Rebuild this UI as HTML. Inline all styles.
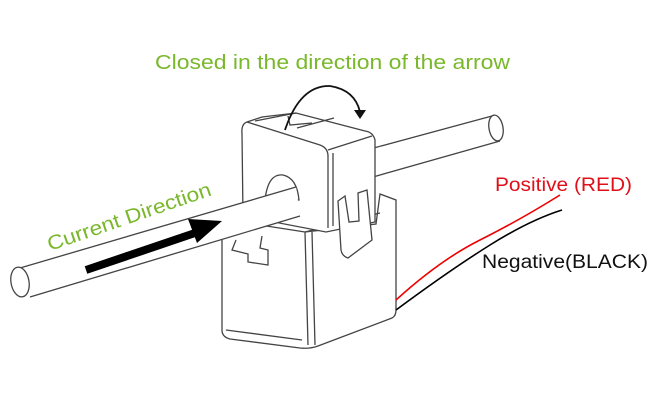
<!DOCTYPE html>
<html><head><style>
body{margin:0;background:#fff;width:657px;height:400px;overflow:hidden}
svg{display:block}
</style></head><body>
<svg width="657" height="400" viewBox="0 0 657 400" xmlns="http://www.w3.org/2000/svg" font-family="Liberation Sans, sans-serif">
<g fill="none" stroke="#444" stroke-width="1.3">
<path d="M370 149 L492 116 M373 177 L500 141"/>
<ellipse cx="496" cy="128" rx="7" ry="13" transform="rotate(-10 496 128)" fill="#fff"/>
<path d="M222 224 L222 330 Q222 337 230 339 L300 348 Q310 349 318 346 L392 318 Q396 316 396 310 L396 200 L380 194 L376 224 L305 232 L260 225 Z" fill="#fff"/>
<path d="M305 232 L308 345 M312 232 L315 345 M305 232 L380 213 M226 330 L302 340"/>
<path d="M247 122 Q241 124 242 134 L243 216 L326 232 L375 222 L375 140 Q373 132 365 131 L296 113 L262 117 Z" fill="#fff"/>
<path d="M247 122 L320 145 Q328 148 328 156 L328 228 M328 150 L372 136"/>
<path d="M255 121 L296 113 M288 116 L290 125 L312 123 M297 128 L334 118"/>
<path d="M333 153 L333 226"/>
<path d="M265 200 Q268 173 283 175 Q297 178 299 200 Z" fill="#fff"/>
<path d="M20 268 L296 187 L300 216 L30 297 Z" fill="#fff" stroke="none"/>
<path d="M20 268 L296 187 M30 297 L300 216"/>
<ellipse cx="20" cy="282" rx="9" ry="15" transform="rotate(-10 20 282)" fill="#fff"/>
<path d="M236 240 L232 250 L248 254 L248 262 L268 265 L268 250 L260 248 L262 236" fill="#fff"/>
<path d="M338 201 L345 196 L349 222 L359 221 L358 193 L367 190 L372 240 L348 258 Q342 256 341 250 Z" fill="#fff"/>
</g>
<path d="M396 300 Q440 260 480 240 T560 195" stroke="#e00" stroke-width="1.6" fill="none"/>
<path d="M396 310 Q450 270 490 245 T562 210" stroke="#000" stroke-width="1.6" fill="none"/>
<path d="M86 270 L195 233" stroke="#000" stroke-width="8"/>
<polygon points="222,221 188,219 197,243" fill="#000"/>
<path d="M285 130 Q300 85 330 86 Q355 90 360 112" stroke="#111" stroke-width="1.8" fill="none"/>
<polygon points="354,110 366,110 360,119" fill="#111"/>
<text x="155" y="69" fill="#7ab82b" font-size="20" textLength="355" lengthAdjust="spacingAndGlyphs">Closed in the direction of the arrow</text>
<text x="0" y="0" fill="#7ab82b" font-size="20" transform="translate(50 251) rotate(-19)" textLength="172" lengthAdjust="spacingAndGlyphs">Current Direction</text>
<text x="495" y="191" fill="#e0101a" font-size="19" textLength="137" lengthAdjust="spacingAndGlyphs">Positive (RED)</text>
<text x="482" y="268" fill="#111" font-size="19" textLength="166" lengthAdjust="spacingAndGlyphs">Negative(BLACK)</text>
</svg>
</body></html>
